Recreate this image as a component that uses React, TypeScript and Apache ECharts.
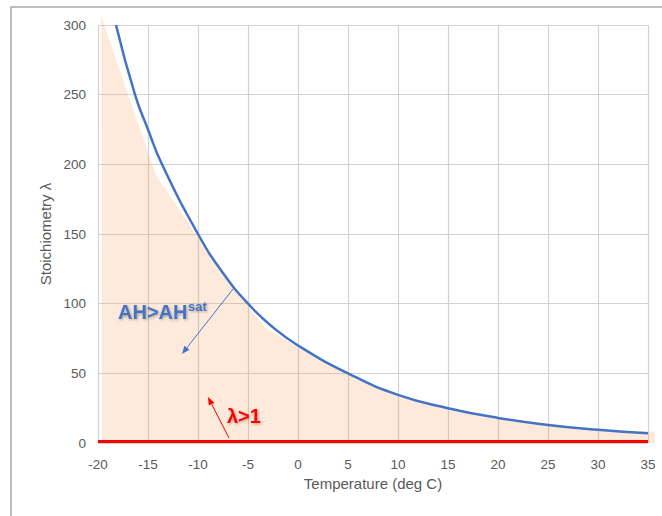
import React, { useEffect, useRef } from "react";
import * as echarts from "echarts";

// Axis ranges / ticks
const xMin = -20;
const xMax = 35;
const xStep = 5;
const yMin = 0;
const yMax = 300;
const yStep = 50;

// Saturation curve (blue): temperature (deg C) vs stoichiometry lambda
const curveTemps = [-18.2, -16.3, -15, -13.6, -10, -7.5, -5, -2.5, 0, 5, 10, 15, 20, 25, 30, 35];
const curveLambda = [300, 250, 225, 200, 150, 122, 100, 83, 70, 50, 34.5, 25, 18, 13, 9.5, 7];

// lambda = 1 line (red)
const lambdaOneTemps = [-20, 35];
const lambdaOneValues = [1, 1];

// Shaded region (hand drawn outline), data coordinates
const regionTemps = [-19.7, -17.0, -14.5, -14.0, -10.1, -7.5, -5, -3.3, -1, 0, 5, 10, 15, 20, 25, 30, 35.7, 35.7, -19.6];
const regionLambda = [307, 250, 198, 190, 149, 121, 98, 83, 73, 69, 49.5, 34, 24.5, 17.6, 12.6, 9.2, 8, 0, 1];

const gray = "#595959";
const font = "'Liberation Sans', Arial, sans-serif";

function arrow(x1: number, y1: number, x2: number, y2: number, color: string) {
  const dx = x2 - x1;
  const dy = y2 - y1;
  const len = Math.sqrt(dx * dx + dy * dy);
  const ux = dx / len;
  const uy = dy / len;
  const hl = 8;
  const hw = 3.2;
  const bx = x2 - ux * hl;
  const by = y2 - uy * hl;
  return [
    {
      type: "line",
      shape: { x1, y1, x2: bx, y2: by },
      style: { stroke: color, lineWidth: 1 },
      z: 20,
    },
    {
      type: "polygon",
      shape: {
        points: [
          [x2, y2],
          [bx - uy * hw, by + ux * hw],
          [bx + uy * hw, by - ux * hw],
        ],
      },
      style: { fill: color },
      z: 20,
    },
  ];
}

export default function App() {
  const ref = useRef<HTMLDivElement>(null);
  useEffect(() => {
    if (!ref.current) return;
    const chart = echarts.init(ref.current, undefined, { renderer: "svg" });
    const curveData = curveTemps.map((t, i) => [t, curveLambda[i]]);
    const redData = lambdaOneTemps.map((t, i) => [t, lambdaOneValues[i]]);
    const textShadow = {
      textShadowColor: "rgba(0,0,0,0.35)",
      textShadowBlur: 3,
      textShadowOffsetX: 1,
      textShadowOffsetY: 1,
    };
    chart.setOption({
      animation: false,
      backgroundColor: "#ffffff",
      grid: { left: 98, right: 14, top: 25, bottom: 73, containLabel: false },
      xAxis: {
        type: "value",
        min: xMin,
        max: xMax,
        interval: xStep,
        name: "Temperature (deg C)",
        nameLocation: "middle",
        nameGap: 32,
        nameTextStyle: { color: gray, fontSize: 15, fontFamily: font },
        axisLine: { show: false },
        axisTick: { show: false },
        axisLabel: { color: gray, fontSize: 13.5, fontFamily: font, margin: 14 },
        splitLine: { show: true, lineStyle: { color: "#d2d2d2", width: 1.2 } },
      },
      yAxis: {
        type: "value",
        min: yMin,
        max: yMax,
        interval: yStep,
        name: "Stoichiometry λ",
        nameLocation: "middle",
        nameGap: 45,
        nameTextStyle: { color: gray, fontSize: 15, fontFamily: font },
        axisLine: { show: false },
        axisTick: { show: false },
        axisLabel: { color: gray, fontSize: 13.5, fontFamily: font, margin: 12 },
        splitLine: { show: true, lineStyle: { color: "#d2d2d2", width: 1.2 } },
      },
      series: [
        {
          type: "custom",
          z: 1,
          clip: false,
          silent: true,
          data: [[0, 0]],
          renderItem: (_params: any, api: any) => {
            const pts = regionTemps.map((t, i) => api.coord([t, regionLambda[i]]));
            return {
              type: "polygon",
              shape: { points: pts },
              style: { fill: "rgba(245,150,70,0.2)" },
            };
          },
        },
        {
          type: "line",
          data: curveData,
          smooth: 0.5,
          showSymbol: false,
          clip: true,
          z: 3,
          lineStyle: { color: "#4472C4", width: 2.5 },
        },
        {
          type: "line",
          data: redData,
          showSymbol: false,
          clip: false,
          z: 4,
          lineStyle: { color: "#FF0000", width: 3 },
        },
      ],
      graphic: [
        {
          type: "rect",
          shape: { x: 11, y: 7, width: 800, height: 700 },
          style: { fill: "none", stroke: "#a6a6a6", lineWidth: 1.5 },
          z: 0,
          silent: true,
        },
        {
          type: "text",
          x: 118,
          y: 312,
          style: {
            text: "AH>AH",
            fill: "#4472C4",
            font: `bold 20px ${font}`,
            verticalAlign: "middle",
            ...textShadow,
          },
          z: 20,
        },
        {
          type: "text",
          x: 188,
          y: 300,
          style: {
            text: "sat",
            fill: "#4472C4",
            font: `bold 13px ${font}`,
            verticalAlign: "top",
            ...textShadow,
          },
          z: 20,
        },
        {
          type: "text",
          x: 227,
          y: 416,
          style: {
            text: "λ>1",
            fill: "#FF0000",
            font: `bold 20px ${font}`,
            verticalAlign: "middle",
            ...textShadow,
          },
          z: 20,
        },
        ...arrow(233, 289, 182, 354, "#4472C4"),
        ...arrow(229, 438, 208, 397, "#FF0000"),
      ],
    });
    return () => chart.dispose();
  }, []);
  return (
    <div
      ref={ref}
      style={{ position: "fixed", left: 0, top: 0, width: 662, height: 516 }}
    />
  );
}
